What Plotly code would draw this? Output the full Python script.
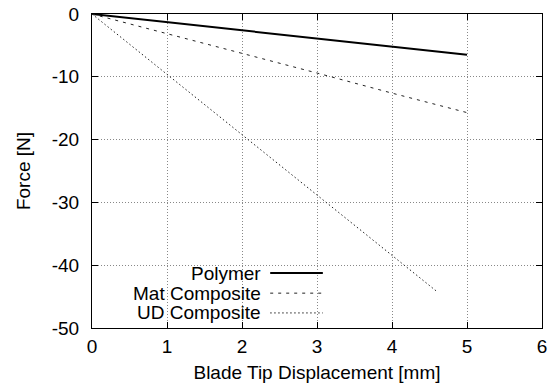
import plotly.graph_objects as go

displacement = [0, 1, 2, 3, 4, 5]
polymer = [0, -1.3, -2.6, -3.9, -5.2, -6.5]
mat_x = [0, 1, 2, 3, 4, 5]
mat_composite = [0, -3.1, -6.3, -9.4, -12.6, -15.7]
ud_x = [0, 1, 2, 3, 4, 4.6]
ud_composite = [0, -9.6, -19.2, -28.8, -38.5, -44.2]

x_ticks = [0, 1, 2, 3, 4, 5, 6]
y_ticks = [0, -10, -20, -30, -40, -50]

names = ["Polymer", "Mat Composite", "UD Composite"]
dashes = ["solid", "3px,5px", "1.5px,2.5px"]
widths = [2, 1, 1]

fig = go.Figure()
fig.add_trace(go.Scatter(x=displacement, y=polymer, mode="lines", name=names[0],
                         line=dict(color="black", width=widths[0], dash=dashes[0])))
fig.add_trace(go.Scatter(x=mat_x, y=mat_composite, mode="lines", name=names[1],
                         line=dict(color="#222", width=widths[1], dash=dashes[1])))
fig.add_trace(go.Scatter(x=ud_x, y=ud_composite, mode="lines", name=names[2],
                         line=dict(color="#222", width=widths[2], dash=dashes[2])))

font = dict(family="Liberation Sans, Arial, sans-serif", size=19, color="black")

axis_common = dict(showline=True, linecolor="black", linewidth=1, mirror="ticks",
                   ticks="inside", ticklen=6, tickcolor="black",
                   showgrid=True, gridcolor="#888", griddash="1px,2px", gridwidth=1,
                   zeroline=False, tickfont=font, automargin=False)

fig.update_xaxes(range=[0, 6], tickvals=x_ticks, ticktext=[str(v) for v in x_ticks],
                 ticklabelstandoff=1,
                 title=dict(text="Blade Tip Displacement [mm]", font=font, standoff=9),
                 **axis_common)
fig.update_yaxes(range=[-50, 0], tickvals=y_ticks, ticktext=[str(v) for v in y_ticks],
                 ticklabelstandoff=8,
                 title=dict(text="Force [N]", font=font, standoff=16),
                 **axis_common)

# gnuplot-style legend: right-aligned text with sample line to its right
legend_y = [0.175, 0.111, 0.048]
for i, name in enumerate(names):
    fig.add_annotation(x=0.38, y=legend_y[i], xref="paper", yref="paper",
                       text=name, showarrow=False, xanchor="right", yanchor="middle",
                       font=font)
    fig.add_shape(type="line", xref="paper", yref="paper",
                  x0=0.396, x1=0.513, y0=legend_y[i], y1=legend_y[i],
                  line=dict(color="black" if i == 0 else "#222", width=widths[i], dash=dashes[i]))

fig.update_layout(width=550, height=389, margin=dict(l=92, r=8, t=14, b=61),
                  paper_bgcolor="white", plot_bgcolor="white", showlegend=False,
                  font=font)

fig.write_html("out.html")
